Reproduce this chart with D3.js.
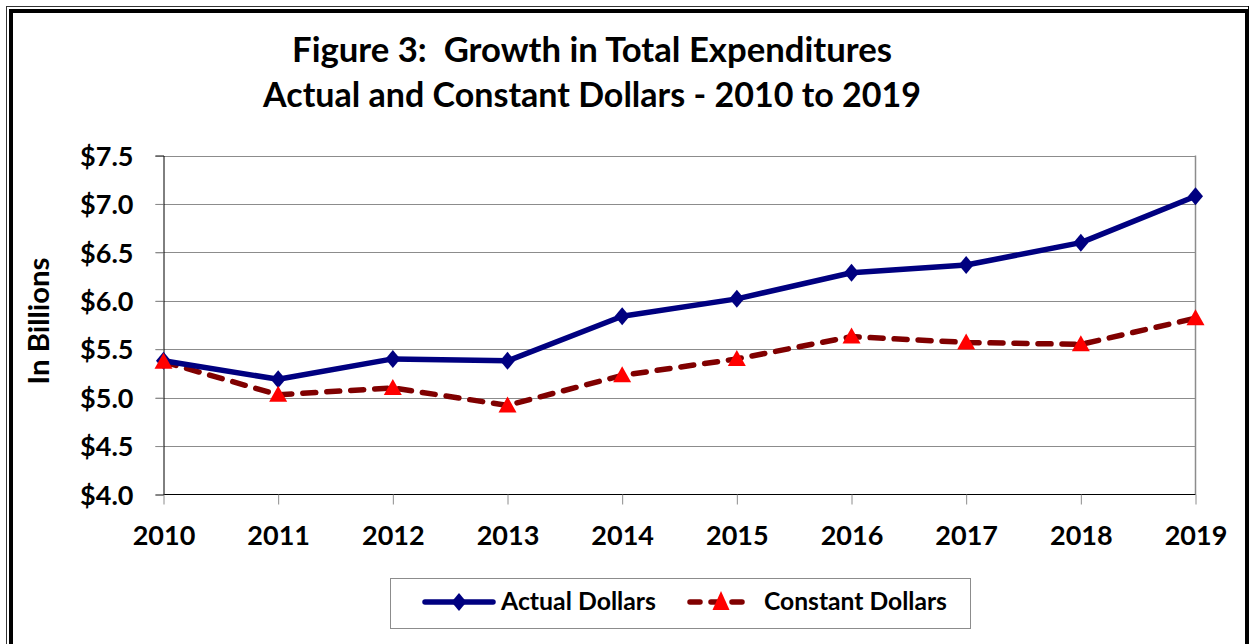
<!DOCTYPE html>
<html>
<head>
<meta charset="utf-8">
<script src="https://cdn.jsdelivr.net/npm/d3@7"></script>
<style>
  html, body { margin: 0; padding: 0; background: #fff; }
  svg { display: block; }
  text { font-family: Lato, "Open Sans", sans-serif; font-weight: 700; fill: #000; white-space: pre; }
</style>
</head>
<body>
<svg id="chart" width="1249" height="644"></svg>
<script>
const years = ["2010","2011","2012","2013","2014","2015","2016","2017","2018","2019"];
const actualDollars = [5.38, 5.19, 5.40, 5.38, 5.84, 6.02, 6.29, 6.37, 6.60, 7.08];
const constantDollars = [5.37, 5.03, 5.10, 4.92, 5.23, 5.40, 5.63, 5.57, 5.55, 5.82];
const yTicks = [4.0, 4.5, 5.0, 5.5, 6.0, 6.5, 7.0, 7.5];
const titleLines = ["Figure 3:  Growth in Total Expenditures", "Actual and Constant Dollars - 2010 to 2019"];
const seriesNames = ["Actual Dollars", "Constant Dollars"];
const yAxisLabel = "In Billions";

(function () {
const svg = d3.select("#chart");

function fitWidth(sel, target, base) {
  sel.style("font-size", base + "px");
  const w = sel.node().getComputedTextLength();
  sel.style("font-size", (base * target / w).toFixed(2) + "px");
}

// outer frame
svg.append("rect").attr("x", 6.5).attr("y", 6.5).attr("width", 1260).attr("height", 700)
  .attr("fill", "none").attr("stroke", "#333").attr("stroke-width", 1);
svg.append("rect").attr("x", 11).attr("y", 11).attr("width", 1236).attr("height", 700)
  .attr("fill", "none").attr("stroke", "#000").attr("stroke-width", 4);
svg.append("line").attr("x1", 1248.5).attr("x2", 1248.5).attr("y1", 6).attr("y2", 644)
  .attr("stroke", "#000").attr("stroke-width", 1);

// titles
const t1 = svg.append("text").attr("x", 592).attr("y", 62).attr("text-anchor", "middle")
  .attr("xml:space", "preserve").text(titleLines[0]);
fitWidth(t1, 600, 32);
const t2 = svg.append("text").attr("x", 592).attr("y", 107).attr("text-anchor", "middle").text(titleLines[1]);
fitWidth(t2, 658, 32);

const pL = 163.5, pR = 1195.5, pT = 155.5, pB = 494.5;
const x = d3.scalePoint().domain(years).range([pL, pR]);
const y = d3.scaleLinear().domain([4.0, 7.5]).range([pB, pT]);

// gridlines
svg.append("g").selectAll("line").data(yTicks.slice(1)).join("line")
  .attr("x1", pL - 8).attr("x2", pR)
  .attr("y1", d => Math.round(y(d)) + 0.5).attr("y2", d => Math.round(y(d)) + 0.5)
  .attr("stroke", "#8c8c8c").attr("stroke-width", 1);
svg.append("line").attr("x1", pR).attr("x2", pR).attr("y1", pT).attr("y2", pB)
  .attr("stroke", "#8c8c8c").attr("stroke-width", 1.5);

// y axis
const yAxis = svg.append("g").attr("transform", `translate(${pL},0)`)
  .call(d3.axisLeft(y).tickValues(yTicks).tickSize(8).tickPadding(22).tickFormat(d => "$" + d3.format(".1f")(d)));
yAxis.select(".domain").attr("stroke", "#000");
yAxis.selectAll(".tick line").attr("stroke", "#8c8c8c");
yAxis.selectAll(".tick text").style("font-family", "Lato, sans-serif").style("font-weight", 700)
  .style("font-size", "27px").attr("fill", "#000").attr("dy", "0.36em");

// x axis
const xAxis = svg.append("g").attr("transform", `translate(0,${pB})`)
  .call(d3.axisBottom(x).tickSize(10).tickPadding(21));
xAxis.select(".domain").attr("stroke", "#000").attr("d", `M${pL},0H${pR}`);
xAxis.selectAll(".tick line").attr("stroke", "#8c8c8c");
xAxis.selectAll(".tick text").style("font-family", "Lato, sans-serif").style("font-weight", 700)
  .style("font-size", "27px").attr("fill", "#000").attr("dy", "0.71em");

// y axis title
const yl = svg.append("text").attr("transform", "translate(49,321) rotate(-90)")
  .attr("text-anchor", "middle").text(yAxisLabel);
fitWidth(yl, 127, 25);

// lines
const line = d3.line().x((d, i) => x(years[i])).y(d => y(d));
svg.append("path").datum(constantDollars).attr("d", line)
  .attr("fill", "none").attr("stroke", "#800000").attr("stroke-width", 5.5)
  .attr("stroke-dasharray", "13,11").attr("stroke-linecap", "round");
svg.append("path").datum(actualDollars).attr("d", line)
  .attr("fill", "none").attr("stroke", "#000080").attr("stroke-width", 5.5)
  .attr("stroke-linejoin", "round");

const diamond = "M0,-9L7.5,0L0,9L-7.5,0Z";
const triangle = "M0,-9L9,7L-9,7Z";
const bigTriangle = "M0,-11L8.5,8L-8.5,8Z";

svg.append("g").selectAll("path").data(actualDollars).join("path")
  .attr("d", diamond).attr("fill", "#000080")
  .attr("transform", (d, i) => `translate(${x(years[i])},${y(d)})`);
svg.append("g").selectAll("path").data(constantDollars).join("path")
  .attr("d", triangle).attr("fill", "#ff0000")
  .attr("transform", (d, i) => `translate(${x(years[i])},${y(d)})`);

// legend
const lg = svg.append("g");
lg.append("rect").attr("x", 390.5).attr("y", 578.5).attr("width", 580).attr("height", 50)
  .attr("fill", "#fff").attr("stroke", "#8c8c8c").attr("stroke-width", 1);
const ly = 602;
lg.append("line").attr("x1", 425).attr("x2", 493).attr("y1", ly).attr("y2", ly)
  .attr("stroke", "#000080").attr("stroke-width", 5.5).attr("stroke-linecap", "round");
lg.append("path").attr("d", diamond).attr("fill", "#000080").attr("transform", `translate(459,${ly})`);
const lt1 = lg.append("text").attr("x", 501).attr("y", ly + 8).text(seriesNames[0]);
fitWidth(lt1, 155, 22);
lg.append("line").attr("x1", 690).attr("x2", 751).attr("y1", ly).attr("y2", ly)
  .attr("stroke", "#800000").attr("stroke-width", 5.5).attr("stroke-linecap", "round")
  .attr("stroke-dasharray", "10,11");
lg.append("path").attr("d", bigTriangle).attr("fill", "#ff0000").attr("transform", `translate(721,${ly})`);
const lt2 = lg.append("text").attr("x", 764).attr("y", ly + 8).text(seriesNames[1]);
fitWidth(lt2, 183, 22);
})();
</script>
</body>
</html>
